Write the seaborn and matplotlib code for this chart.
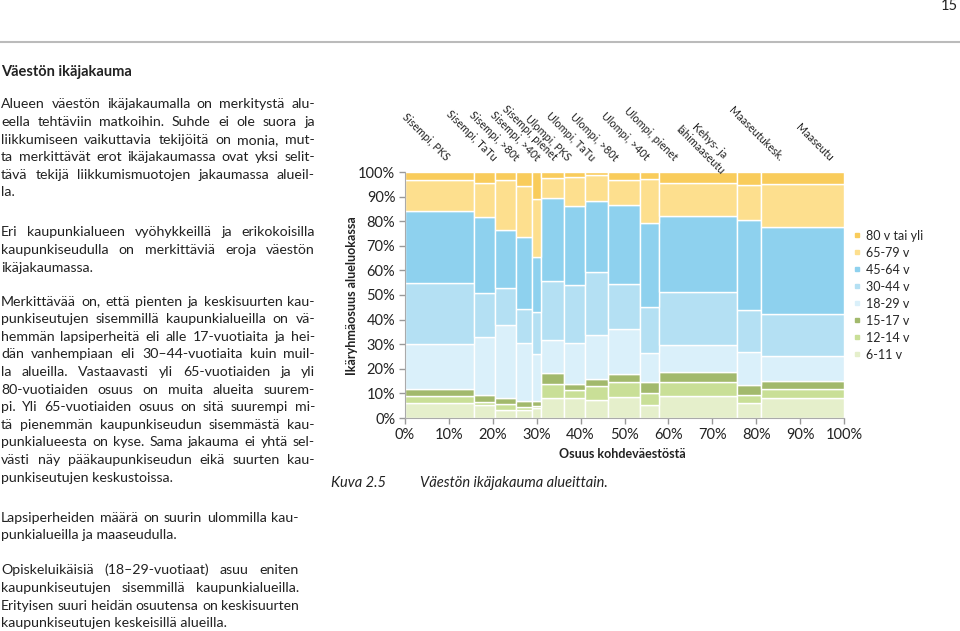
import numpy as np
import pandas as pd
import matplotlib
matplotlib.use('Agg')
import matplotlib.pyplot as plt
from matplotlib.lines import Line2D
import seaborn as sns

# Regions (columns of the mosaic) and their share of the population (%)
regions = ['Sisempi, PKS', 'Sisempi, TaTu', 'Sisempi, >80t', 'Sisempi, >40t', 'Sisempi, pienet',
           'Ulompi, PKS', 'Ulompi, TaTu', 'Ulompi, >80t', 'Ulompi, >40t', 'Ulompi, pienet',
           'Kehys- ja\nlähimaaseutu', 'Maaseutukesk.', 'Maaseutu']
region_share = [15.7, 4.7, 4.9, 3.6, 2.0, 5.4, 4.7, 5.3, 7.2, 4.3, 17.9, 5.4, 18.9]

# Age group shares within each region (%)
age_6_11 = [6.1, 5.2, 3.1, 3.1, 3.9, 8.2, 8.2, 7.2, 8.6, 5.4, 9.1, 5.9, 8.2]
age_12_14 = [3.0, 1.3, 2.6, 1.3, 1.0, 5.8, 3.1, 6.0, 6.0, 4.8, 5.7, 3.6, 3.4]
age_15_17 = [2.7, 3.0, 2.5, 2.4, 2.2, 4.4, 2.7, 2.7, 3.1, 4.4, 3.8, 4.1, 3.4]
age_18_29 = [18.1, 23.3, 29.6, 23.8, 18.8, 13.2, 16.6, 17.8, 18.4, 11.7, 10.9, 13.2, 10.2]
age_30_44 = [24.8, 17.9, 14.9, 13.9, 17.2, 24.2, 23.4, 25.8, 18.3, 19.0, 21.9, 17.0, 17.2]
age_45_64 = [29.4, 31.2, 23.8, 29.0, 22.2, 33.6, 32.0, 28.9, 32.3, 33.9, 30.9, 36.5, 35.2]
age_65_79 = [12.5, 13.7, 20.4, 20.8, 23.8, 8.3, 12.0, 10.2, 10.2, 18.1, 13.3, 14.5, 17.6]
age_80 = [3.4, 4.4, 3.1, 5.7, 10.9, 2.3, 2.0, 1.4, 3.1, 2.7, 4.4, 5.2, 4.8]

age_groups = ['80 v tai yli', '65-79 v', '45-64 v', '30-44 v', '18-29 v', '15-17 v', '12-14 v', '6-11 v']
age_values = [age_80, age_65_79, age_45_64, age_30_44, age_18_29, age_15_17, age_12_14, age_6_11]
colors = ['#F9CC5B', '#FDDF8E', '#8ED1EE', '#B4E0F3', '#DAF0FA', '#A2B96C', '#C9DF97', '#E5EFCB']

# where the rotated region labels end (x in %, y in %)
label_x = [9.6, 20.5, 25.5, 30.3, 34.2, 37.4, 42.9, 48.1, 55.2, 61.6, 73.4, 85.8, 97.2]
label_y = [105.3] * 10 + [101.8, 105.3, 105.3]

edges = [0.0] + list(np.cumsum(region_share))
mids = [(a + b) / 2 for a, b in zip(edges[:-1], edges[1:])]

rows = []
for g, vals in zip(age_groups, age_values):
    for i, v in enumerate(vals):
        rows.append({'mid': mids[i], 'share': v, 'age': g})
df = pd.DataFrame(rows)

sns.set_style('white')
plt.rcParams['font.family'] = ['Lato', 'DejaVu Sans']

W, H = 960, 631
fig = plt.figure(figsize=(9.6, 6.31), dpi=100)


def fx(x):
    return x / W


def fy(y):
    return 1 - y / H


# the mosaic chart
ax = fig.add_axes([fx(405), fy(418), (844 - 405) / W, (418 - 172) / H])
sns.histplot(data=df, x='mid', weights='share', hue='age', hue_order=age_groups,
             bins=edges, multiple='stack', palette=dict(zip(age_groups, colors)),
             edgecolor='white', linewidth=1, alpha=1, legend=False, ax=ax)
ax.set_xlim(0, 100)
ax.set_ylim(0, 100)
ax.set_xlabel('')
ax.set_ylabel('')
ax.set_xticks(range(0, 101, 10))
ax.set_xticklabels([f'{v}%' for v in range(0, 101, 10)])
ax.set_yticks(range(0, 101, 10))
ax.set_yticklabels([f'{v}%' for v in range(0, 101, 10)])
ax.tick_params(axis='both', labelsize=10.5, colors='#999999', labelcolor='#222222',
               length=4, width=1, left=True, bottom=True, pad=3)
sns.despine(ax=ax)
for s in ['left', 'bottom']:
    ax.spines[s].set_color('#aaaaaa')

for name, x, y in zip(regions, label_x, label_y):
    ax.text(x, y, name, rotation=-45, rotation_mode='anchor', ha='right', va='center',
            multialignment='center', fontsize=7.8, color='#222222', clip_on=False)

fig.text(fx(352), fy(296), 'Ikäryhmäosuus alueluokassa', rotation=90, ha='center', va='center',
         fontsize=9, fontweight='bold', color='#222222')
fig.text(fx(622), fy(454), 'Osuus kohdeväestöstä', ha='center', va='center',
         fontsize=9, fontweight='bold', color='#222222')

handles = [Line2D([], [], marker='s', linestyle='', markersize=3.5, color=c) for c in colors]
fig.legend(handles, age_groups, loc='upper left', bbox_to_anchor=(fx(849), fy(226)),
           frameon=False, fontsize=9, handlelength=0.6, handletextpad=0.5,
           labelspacing=0.4, borderaxespad=0, borderpad=0.3)

fig.text(fx(331), fy(487), 'Kuva 2.5', fontsize=10.5, style='italic', color='#222222', va='baseline')
fig.text(fx(420), fy(487), 'Väestön ikäjakauma alueittain.', fontsize=10.5, style='italic',
         color='#222222', va='baseline')

# page header
fig.text(fx(958), fy(10), '15', fontsize=10.5, ha='right', va='baseline', color='#222222')
fig.add_artist(Line2D([0, 1], [fy(42), fy(42)], color='#bbbbbb', linewidth=1.5))

# body text, justified word by word
renderer = fig.canvas.get_renderer()
SIZE = 10.2
LS = 17.6
MIN_GAP = 3.0


def text_w(s, size):
    t = fig.text(0, 0, s, fontsize=size)
    w = t.get_window_extent(renderer).width
    t.remove()
    return w


def paragraph(lines, y0, width):
    for i, line in enumerate(lines):
        y = y0 + i * LS + 4.5
        if i == len(lines) - 1:
            fig.text(fx(1), fy(y), line, fontsize=SIZE, va='baseline', color='#222222')
            continue
        words = line.split(' ')
        size = SIZE
        while True:
            widths = [text_w(w, size) for w in words]
            gap = (width - sum(widths)) / (len(words) - 1)
            if gap >= MIN_GAP or size < 8:
                break
            size -= 0.1
        x = 1
        for w, wd in zip(words, widths):
            fig.text(fx(x), fy(y), w, fontsize=size, va='baseline', color='#222222')
            x += wd + gap


fig.text(fx(1), fy(76), 'Väestön ikäjakauma', fontsize=10.5, fontweight='bold',
         va='baseline', color='#222222')

paragraph(['Alueen väestön ikäjakaumalla on merkitystä alu-',
           'eella tehtäviin matkoihin. Suhde ei ole suora ja',
           'liikkumiseen vaikuttavia tekijöitä on monia, mut-',
           'ta merkittävät erot ikäjakaumassa ovat yksi selit-',
           'tävä tekijä liikkumismuotojen jakaumassa alueil-',
           'la.'], 104, 314)
paragraph(['Eri kaupunkialueen vyöhykkeillä ja erikokoisilla',
           'kaupunkiseudulla on merkittäviä eroja väestön',
           'ikäjakaumassa.'], 232, 314)
paragraph(['Merkittävää on, että pienten ja keskisuurten kau-',
           'punkiseutujen sisemmillä kaupunkialueilla on vä-',
           'hemmän lapsiperheitä eli alle 17-vuotiaita ja hei-',
           'dän vanhempiaan eli 30–44-vuotiaita kuin muil-',
           'la alueilla. Vastaavasti yli 65-vuotiaiden ja yli',
           '80-vuotiaiden osuus on muita alueita suurem-',
           'pi. Yli 65-vuotiaiden osuus on sitä suurempi mi-',
           'tä pienemmän kaupunkiseudun sisemmästä kau-',
           'punkialueesta on kyse. Sama jakauma ei yhtä sel-',
           'västi näy pääkaupunkiseudun eikä suurten kau-',
           'punkiseutujen keskustoissa.'], 301, 314)
paragraph(['Lapsiperheiden määrä on suurin ulommilla kau-',
           'punkialueilla ja maaseudulla.'], 517, 298)
paragraph(['Opiskeluikäisiä (18–29-vuotiaat) asuu eniten',
           'kaupunkiseutujen sisemmillä kaupunkialueilla.',
           'Erityisen suuri heidän osuutensa on keskisuurten',
           'kaupunkiseutujen keskeisillä alueilla.'], 570, 298)

fig.savefig('out.png', dpi=100)
